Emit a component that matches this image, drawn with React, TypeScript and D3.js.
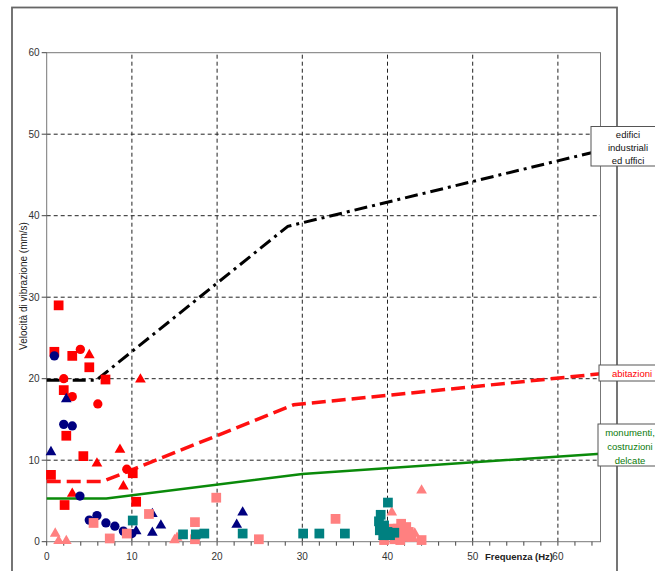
import React from 'react'
import * as d3 from 'd3'

// limit curves (frequency Hz, velocity mm/s)
const industrialLimit = [[0, 19.8], [5.8, 19.8], [28.3, 38.7], [65, 48.0]]
const housingLimit = [[0, 7.4], [6.6, 7.4], [29, 16.8], [65, 20.6]]
const monumentLimit = [[0, 5.3], [7, 5.3], [30, 8.3], [65, 10.8]]

// measured points
const redSquares = [
  [1.4, 29.0], [0.9, 23.3], [3.0, 22.8], [5.0, 21.4], [2.0, 18.6], [6.9, 19.9],
  [2.3, 13.0], [4.3, 10.5], [0.5, 8.2], [10.1, 8.4], [2.1, 4.5], [10.5, 4.9],
]
const redCircles = [[3.95, 23.6], [2.0, 20.0], [3.0, 17.8], [6.0, 16.9], [9.4, 8.9]]
const redTriangles = [[5.0, 22.9], [11.0, 19.9], [8.6, 11.3], [5.9, 9.6], [9.0, 6.8], [3.0, 5.9]]
const navyCircles = [
  [0.9, 22.8], [2.0, 14.4], [3.0, 14.2], [3.9, 5.6], [5.0, 2.65], [5.9, 3.2],
  [6.95, 2.3], [8.0, 1.9], [9.0, 1.3], [10.0, 1.0],
]
const navyTriangles = [
  [0.5, 11.0], [2.3, 17.5], [12.4, 3.4], [13.4, 2.0], [12.4, 1.1], [10.5, 1.3],
  [23.0, 3.6], [22.3, 2.1],
]
const tealSquares = [
  [10.1, 2.6], [16.0, 0.9], [17.5, 0.9], [18.5, 1.0], [23.0, 1.0], [30.1, 1.0],
  [32.0, 1.0], [35.0, 1.0], [40.05, 4.8], [39.2, 3.3], [39.0, 2.5], [39.6, 2.0],
  [39.1, 1.4], [40.0, 1.2], [40.8, 1.1], [39.5, 0.8], [40.3, 0.8],
]
const pinkSquares = [
  [5.5, 2.3], [7.4, 0.4], [9.4, 1.0], [12.0, 3.4], [17.4, 2.4], [17.4, 0.3],
  [19.9, 5.4], [24.9, 0.3], [33.9, 2.8], [41.6, 2.2], [42.2, 1.8], [41.2, 1.6],
  [42.5, 1.2], [42.0, 0.6], [40.8, 0.3], [39.6, 0.2], [41.5, 0.2], [44.0, 0.2],
  [41.0, 0.9], [40.6, 1.6], [42.8, 0.6], [41.8, 1.2],
]
const pinkTriangles = [
  [1.0, 1.0], [1.4, 0.1], [2.3, 0.1], [15.0, 0.2], [15.3, 0.5], [40.5, 3.6],
  [44.0, 6.3], [43.0, 0.4], [43.2, 1.0], [39.5, 0.6],
]

const xTicks = [0, 10, 20, 30, 40, 50, 60]
const yTicks = [0, 10, 20, 30, 40, 50, 60]

const font = '"Liberation Sans", Arial, sans-serif'

const App = () => {
  const x = d3.scaleLinear().domain([0, 65]).range([46.7, 600.5])
  const y = d3.scaleLinear().domain([0, 60]).range([541.7, 52.7])
  const line = d3.line<number[]>().x(d => x(d[0])).y(d => y(d[1]))
  const minorTicks = d3.range(0, 65, 2)

  const square = d3.symbol().type(d3.symbolSquare).size(95)()
  const circle = d3.symbol().type(d3.symbolCircle).size(68)()
  const triangle = d3.symbol().type(d3.symbolTriangle).size(50)()

  const markers = (data, path, color, key) =>
    data.map((d, i) => (
      <path key={`${key}${i}`} d={path} fill={color} transform={`translate(${x(d[0])},${y(d[1])})`} />
    ))

  return (
    <svg width={655} height={571} style={{ position: 'absolute', left: 0, top: 0, background: '#fff' }}>
      {/* outer frame */}
      <rect x={12} y={7.5} width={605} height={620} fill="none" stroke="#666" strokeWidth={1.8} />

      {/* grid */}
      {xTicks.filter(t => t > 0).map(t => (
        <line key={`gx${t}`} x1={x(t)} x2={x(t)} y1={y(0)} y2={y(60)} stroke="#222" strokeDasharray="4,3" />
      ))}
      {yTicks.filter(t => t > 0 && t < 60).map(t => (
        <line key={`gy${t}`} x1={x(0)} x2={x(65)} y1={y(t)} y2={y(t)} stroke="#222" strokeDasharray="4,3" />
      ))}

      {/* plot frame */}
      <rect x={x(0)} y={y(60)} width={x(65) - x(0)} height={y(0) - y(60)} fill="none" stroke="#777" />

      {/* ticks */}
      {minorTicks.map(t => (
        <line key={`mt${t}`} x1={x(t)} x2={x(t)} y1={y(0)} y2={y(0) + 4} stroke="#444" />
      ))}
      {xTicks.map(t => (
        <text key={`xl${t}`} x={x(t)} y={560} textAnchor="middle" fontSize={10} fill="#333" fontFamily={font}>{t}</text>
      ))}
      {yTicks.map(t => (
        <g key={`yl${t}`}>
          <line x1={x(0) - 5} x2={x(0)} y1={y(t)} y2={y(t)} stroke="#444" />
          <text x={x(0) - 7} y={y(t) + 3.5} textAnchor="end" fontSize={10} fill="#333" fontFamily={font}>{t}</text>
        </g>
      ))}

      {/* limit curves */}
      <path d={line(monumentLimit)} fill="none" stroke="#0a8a0a" strokeWidth={2.5} />
      <path d={line(housingLimit)} fill="none" stroke="#ff1010" strokeWidth={3.5} strokeDasharray="14,6" />
      <path d={line(industrialLimit)} fill="none" stroke="#000" strokeWidth={3} strokeDasharray="13,5,3,5" />

      {/* markers */}
      {markers(redSquares, square, '#ff0000', 'rs')}
      {markers(redCircles, circle, '#ff0000', 'rc')}
      {markers(redTriangles, triangle, '#ff0000', 'rt')}
      {markers(navyCircles, circle, '#000080', 'nc')}
      {markers(navyTriangles, triangle, '#000080', 'nt')}
      {markers(pinkSquares, square, '#ff8080', 'ps')}
      {markers(pinkTriangles, triangle, '#ff8080', 'pt')}
      {markers(tealSquares, square, '#008080', 'ts')}

      {/* axis titles */}
      <text transform="translate(27,286) rotate(-90)" textAnchor="middle" fontSize={10} fill="#222" fontFamily={font}>
        Velocità di vibrazione (mm/s)
      </text>
      <text x={553} y={560} textAnchor="end" fontSize={9.5} fontWeight="bold" fill="#222" fontFamily={font}>
        Frequenza (Hz)
      </text>

      {/* curve labels */}
      <rect x={591} y={126.5} width={80} height={39.5} fill="#fff" stroke="#555" />
      {['edifici', 'industriali', 'ed uffici'].map((s, i) => (
        <text key={s} x={628} y={138 + i * 13} textAnchor="middle" fontSize={9.5} fill="#111" fontFamily={font}>{s}</text>
      ))}
      <rect x={599} y={365} width={70} height={16} fill="#fff" stroke="#555" />
      <text x={612} y={376.5} fontSize={9.5} fill="#ff0000" fontFamily={font}>abitazioni</text>
      <rect x={598} y={424} width={70} height={42} fill="#fff" stroke="#555" />
      {['monumenti,', 'costruzioni', 'delcate'].map((s, i) => (
        <text key={s} x={630} y={435.5 + i * 14} textAnchor="middle" fontSize={9.5} fill="#0a7a0a" fontFamily={font}>{s}</text>
      ))}
    </svg>
  )
}

export default App
